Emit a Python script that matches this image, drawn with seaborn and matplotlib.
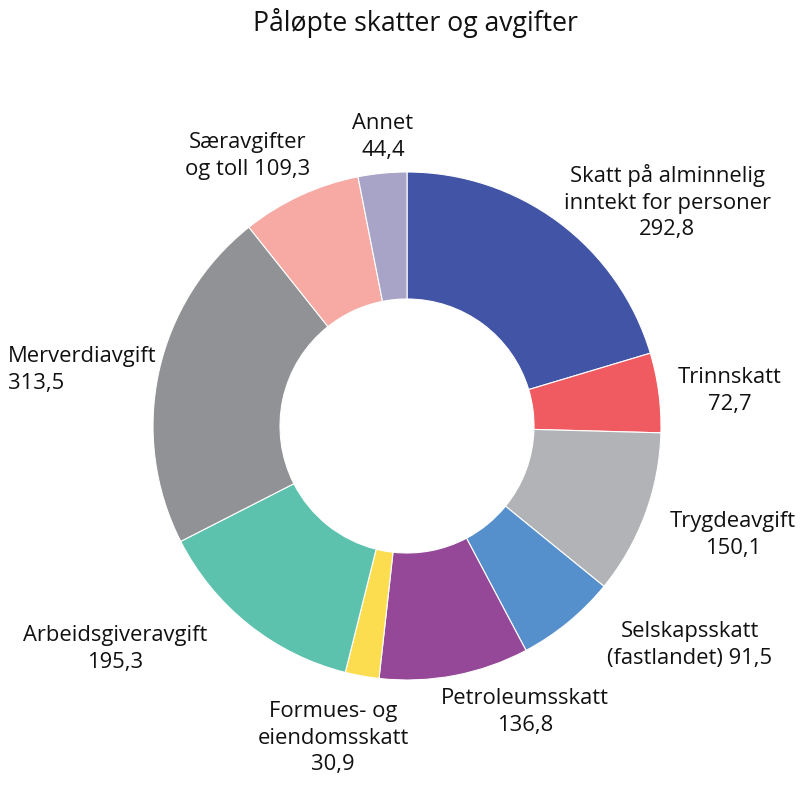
import matplotlib
matplotlib.use("Agg")
import matplotlib.pyplot as plt
import seaborn as sns

categories = [
    "Skatt på alminnelig\ninntekt for personer",
    "Trinnskatt",
    "Trygdeavgift",
    "Selskapsskatt\n(fastlandet)",
    "Petroleumsskatt",
    "Formues- og\neiendomsskatt",
    "Arbeidsgiveravgift",
    "Merverdiavgift",
    "Særavgifter\nog toll",
    "Annet",
]
values = [292.8, 72.7, 150.1, 91.5, 136.8, 30.9, 195.3, 313.5, 109.3, 44.4]
value_labels = ["292,8", "72,7", "150,1", "91,5", "136,8", "30,9", "195,3", "313,5", "109,3", "44,4"]

colors = ["#4254A5", "#EF5B61", "#B2B3B6", "#5690CC", "#944897",
          "#FDDD50", "#5DC2AD", "#919295", "#F6AAA3", "#A7A4C8"]

# label anchors in pixel coords (x, y from top), alignment
label_pos = [
    (667, 202, "center"),
    (730, 391, "center"),
    (733, 535, "center"),
    (690, 645, "center"),
    (525, 712, "center"),
    (333, 738, "center"),
    (115, 649, "center"),
    (8, 370, "left"),
    (248, 156, "center"),
    (383, 137, "center"),
]
# how the value joins the name: new line or same line
joins = ["\n", "\n", "\n", " ", "\n", "\n", "\n", "\n", " ", "\n"]

W, H = 800, 789
sns.set_theme(style="white")
plt.rcParams["font.family"] = ["Open Sans", "DejaVu Sans"]

fig = plt.figure(figsize=(W / 100, H / 100), dpi=100)
ax = fig.add_axes([0, 0, 1, 1])
ax.set_xlim(0, W)
ax.set_ylim(0, H)
ax.set_aspect("equal")
ax.axis("off")

cx, cy, r = 407, H - 426, 254
ax.pie(values, colors=colors, startangle=90, counterclock=False,
       center=(cx, cy), radius=r,
       wedgeprops=dict(width=127, edgecolor="white", linewidth=0.8))
ax.set_xlim(0, W)
ax.set_ylim(0, H)

for name, val, j, (x, y, ha) in zip(categories, value_labels, joins, label_pos):
    ax.text(x, H - y, name + j + val, ha=ha, va="center", fontsize=15.8,
            color="#111111", linespacing=1.32, multialignment=ha)

ax.text(415, H - 23, "Påløpte skatter og avgifter", ha="center", va="center",
        fontsize=19.2, color="#111111")

fig.savefig("out.png", dpi=100)
